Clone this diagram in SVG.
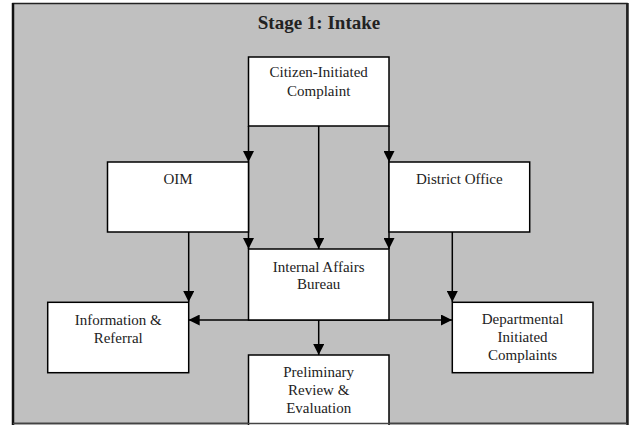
<svg xmlns="http://www.w3.org/2000/svg" width="630" height="425" viewBox="0 0 630 425">
<style>
.box{fill:#fff;stroke:#000;stroke-width:1.5}
text{font-family:'Liberation Serif','Times New Roman','DejaVu Serif',serif}
.t{font-size:15px;fill:#222;text-anchor:middle}
.title{font-size:19px;font-weight:bold;fill:#222;text-anchor:middle}
.c{stroke:#000;stroke-width:1.5;fill:none;marker-end:url(#ah)}
</style>
<defs>
<marker id="ah" markerWidth="11" markerHeight="11" viewBox="0 0 11 11" refX="11" refY="5.5" orient="auto" markerUnits="userSpaceOnUse">
<path d="M0,0 L11,5.5 L0,11 Z" fill="#000"/>
</marker>
</defs>
<rect x="13" y="3.5" width="614" height="420" fill="#c0c0c0" stroke="#222" stroke-width="1.5"/>
<line x1="13" y1="3" x2="13" y2="425" stroke="#111" stroke-width="2.5"/>
<line x1="627.5" y1="3" x2="627.5" y2="425" stroke="#222" stroke-width="2.5"/>
<text class="title" x="319" y="29" font-family="Liberation Serif, serif">Stage 1: Intake</text>
<g id="connectors">
<line class="c" x1="248.5" y1="126" x2="248.5" y2="162"/>
<line class="c" x1="248.5" y1="162" x2="248.5" y2="249"/>
<line class="c" x1="318.7" y1="126" x2="318.7" y2="249"/>
<line class="c" x1="389" y1="126" x2="389" y2="162"/>
<line class="c" x1="389" y1="162" x2="389" y2="249"/>
<line class="c" x1="188.7" y1="232" x2="188.7" y2="302"/>
<line class="c" x1="452.3" y1="232" x2="452.3" y2="302"/>
<line class="c" x1="318.7" y1="320" x2="188.7" y2="320"/>
<line class="c" x1="318.7" y1="320" x2="452" y2="320"/>
<line class="c" x1="318.7" y1="320" x2="318.7" y2="355"/>
</g>
<g id="citizen">
<rect class="box" x="248.5" y="57" width="140.5" height="69"/>
<text class="t" x="318.7" y="77.3">Citizen-Initiated</text>
<text class="t" x="318.7" y="96">Complaint</text>
</g>
<g id="oim">
<rect class="box" x="107.5" y="162" width="141" height="70"/>
<text class="t" x="178" y="184">OIM</text>
</g>
<g id="district">
<rect class="box" x="389" y="162" width="140.7" height="70"/>
<text class="t" x="459.3" y="184">District Office</text>
</g>
<g id="iab">
<rect class="box" x="248.5" y="249" width="140.5" height="71"/>
<text class="t" x="318.7" y="271.7">Internal Affairs</text>
<text class="t" x="318.7" y="289.3">Bureau</text>
</g>
<g id="info">
<rect class="box" x="47.7" y="302.3" width="141" height="70.4"/>
<text class="t" x="118.2" y="325">Information &amp;</text>
<text class="t" x="118.2" y="342.7">Referral</text>
</g>
<g id="dept">
<rect class="box" x="452.3" y="302.3" width="140.7" height="70.4"/>
<text class="t" x="522.6" y="324.3">Departmental</text>
<text class="t" x="522.6" y="342.3">Initiated</text>
<text class="t" x="522.6" y="360.3">Complaints</text>
</g>
<g id="prelim">
<rect class="box" x="248.5" y="355" width="140.5" height="75"/>
<text class="t" x="318.7" y="377.3">Preliminary</text>
<text class="t" x="318.7" y="395.3">Review &amp;</text>
<text class="t" x="318.7" y="412.7">Evaluation</text>
</g>
<line x1="13" y1="423.5" x2="627" y2="423.5" stroke="#444" stroke-width="1.5"/>
</svg>
